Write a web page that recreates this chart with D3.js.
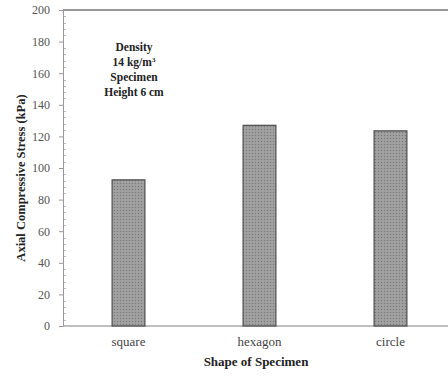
<!DOCTYPE html>
<html>
<head>
<meta charset="utf-8">
<script src="https://cdnjs.cloudflare.com/ajax/libs/d3/7.8.5/d3.min.js"></script>
<style>
  body { margin: 0; background: #fff; }
  text { font-family: "Liberation Serif", "Times New Roman", serif; fill: #222; }
</style>
</head>
<body>
<div id="chart"></div>
<script>
// values
var shapes = ["square", "hexagon", "circle"];
var stress = [92.5, 127, 123.5];
var yTicks = [0, 20, 40, 60, 80, 100, 120, 140, 160, 180, 200];
var note = ["Density", "14 kg/m", "Specimen", "Height 6 cm"];

var W = 448, H = 376;
var plotL = 63, plotT = 10, plotB = 326, plotR = 456;

var svg = d3.select("#chart").append("svg")
  .attr("width", W).attr("height", H);

// dotted grey fill like the scanned bars
var defs = svg.append("defs");
var pat = defs.append("pattern")
  .attr("id", "dots")
  .attr("width", 3).attr("height", 3)
  .attr("patternUnits", "userSpaceOnUse");
pat.append("rect").attr("width", 3).attr("height", 3).style("fill", "#9c9c9c");
pat.append("rect").attr("width", 1).attr("height", 1).style("fill", "#7a7a7a");
pat.append("rect").attr("x", 1.5).attr("y", 1.5).attr("width", 1).attr("height", 1).style("fill", "#b4b4b4");

var x = d3.scaleBand().domain(shapes).range([plotL, plotR])
  .paddingInner(0.75).paddingOuter(0.375);
var y = d3.scaleLinear().domain([0, 200]).range([plotB, plotT]);

// top frame line
svg.append("line")
  .attr("x1", plotL).attr("x2", W)
  .attr("y1", plotT).attr("y2", plotT)
  .style("stroke", "#9a9a9a").style("stroke-width", 2);

// minor ticks every 4 kPa, pointing inside
var minor = d3.range(0, 201, 4).filter(function (v) { return v % 20 !== 0; });
svg.append("g").selectAll("line").data(minor).enter().append("line")
  .attr("x1", plotL).attr("x2", plotL + 3)
  .attr("y1", function (d) { return Math.round(y(d)) + 0.5; })
  .attr("y2", function (d) { return Math.round(y(d)) + 0.5; })
  .style("stroke", "#bbb").style("stroke-width", 1);

// y axis
var yAxis = svg.append("g")
  .attr("transform", "translate(" + plotL + ",0)")
  .call(d3.axisLeft(y).tickValues(yTicks).tickSize(4).tickPadding(9));
yAxis.select(".domain").style("stroke", "#999");
yAxis.selectAll(".tick line").style("stroke", "#999");
yAxis.selectAll("text")
  .style("font-family", "Liberation Serif, serif")
  .style("font-size", "12px").style("fill", "#555");

// x axis
var xAxis = svg.append("g")
  .attr("transform", "translate(0," + plotB + ")")
  .call(d3.axisBottom(x).tickSize(0).tickPadding(11));
xAxis.select(".domain").attr("d", "M" + plotL + ",0H" + W)
  .style("stroke", "#aaa").style("stroke-width", 1.5);
xAxis.selectAll("text")
  .style("font-family", "Liberation Serif, serif")
  .style("font-size", "13px").style("fill", "#444");

// bars
svg.append("g").selectAll("rect").data(shapes).enter().append("rect")
  .attr("x", function (d) { return x(d); })
  .attr("y", function (d, i) { return y(stress[i]); })
  .attr("width", x.bandwidth())
  .attr("height", function (d, i) { return plotB - y(stress[i]); })
  .style("fill", "url(#dots)")
  .style("stroke", "#555").style("stroke-width", 1.3);

// axis titles
svg.append("text")
  .attr("transform", "translate(25,178) rotate(-90)")
  .attr("text-anchor", "middle")
  .style("font-size", "12.5px").style("font-weight", "bold")
  .text("Axial Compressive Stress (kPa)");

svg.append("text")
  .attr("x", 256).attr("y", 366)
  .attr("text-anchor", "middle")
  .style("font-size", "13px").style("font-weight", "bold")
  .text("Shape of Specimen");

// annotation block
var ann = svg.append("g").selectAll("text").data(note).enter().append("text")
  .attr("x", 134)
  .attr("y", function (d, i) { return 51 + i * 15; })
  .attr("text-anchor", "middle")
  .style("font-size", "11.5px").style("font-weight", "bold");
ann.text(function (d) { return d; });
ann.filter(function (d, i) { return i === 1; })
  .append("tspan").attr("dy", -4).style("font-size", "7px").text("3");
</script>
</body>
</html>
